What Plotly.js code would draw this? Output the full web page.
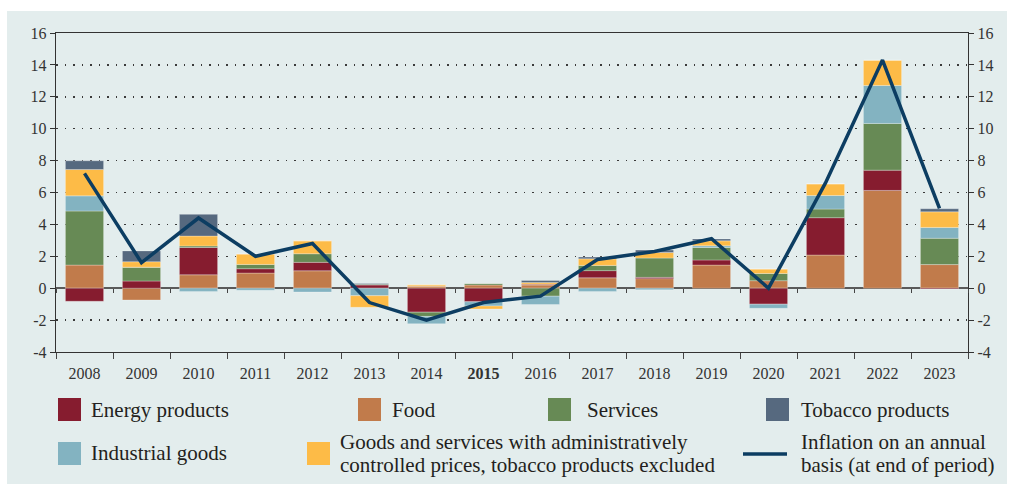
<!DOCTYPE html>
<html>
<head>
<meta charset="utf-8">
<script src="https://cdn.plot.ly/plotly-3.0.1.min.js"></script>
<style>
  html, body { margin: 0; padding: 0; background: #ffffff; }
  #chart { position: absolute; left: 7px; top: 11px; width: 1000px; height: 473px; }
</style>
</head>
<body>
<div id="chart"></div>
<script>
// ---- data ----
const years = ['2008','2009','2010','2011','2012','2013','2014','2015','2016','2017','2018','2019','2020','2021','2022','2023'];
const yearLabels = ['2008','2009','2010','2011','2012','2013','2014','<b>2015</b>','2016','2017','2018','2019','2020','2021','2022','2023'];
const food       = [1.45,-0.74, 0.84, 0.95, 1.09, 0.00, 0.12, 0.20, 0.20, 0.65, 0.60, 1.45, 0.47, 2.08, 6.13, 1.48];
const energy     = [-0.82,0.45, 1.71, 0.27, 0.53, 0.20,-1.50,-0.85, 0.05, 0.45, 0.08, 0.32,-1.00, 2.34, 1.27,-0.05];
const services   = [3.39, 0.87, 0.10, 0.27, 0.54, 0.05,-0.27, 0.10,-0.50, 0.33, 1.21, 0.78, 0.45, 0.54, 2.93, 1.65];
const industrial = [0.95, 0.00,-0.20,-0.13,-0.24,-0.47,-0.46,-0.27,-0.52,-0.20,-0.10, 0.11,-0.26, 0.85, 2.38, 0.68];
const admin      = [1.65, 0.34, 0.62, 0.65, 0.81,-0.73, 0.09,-0.18, 0.10, 0.41, 0.35, 0.31, 0.28, 0.73, 1.58, 0.98];
const tobacco    = [0.55, 0.68, 1.36, 0.00, 0.00, 0.05, 0.00, 0.00, 0.13, 0.11, 0.15, 0.12, 0.00, 0.00, 0.00, 0.19];
const inflation  = [7.2, 1.6, 4.4, 2.0, 2.8, -0.9, -2.0, -0.9, -0.5, 1.8, 2.3, 3.1, 0.0, 6.6, 14.3, 5.0];
const yTickVals  = [-4,-2,0,2,4,6,8,10,12,14,16];
const yTickText  = ['-4','-2','0','2','4','6','8','10','12','14','16'];
const seriesNames = ['Energy products','Food','Services','Tobacco products','Industrial goods'];
const adminNameLines = ['Goods and services with administratively','controlled prices, tobacco products excluded'];
const inflationNameLines = ['Inflation on an annual','basis (at end of period)'];

// ---- styles ----
const C = {
  energy: '#861c2f', food: '#c17b4b', services: '#678a55', tobacco: '#56697f',
  industrial: '#83b3c1', admin: '#fdbb47', line: '#0c3d62', bg: '#e3eded', text: '#231f20'
};
const FONT = 'Liberation Serif, Times New Roman, serif';
const outline = {color: 'rgba(255,255,255,0.35)', width: 0.8};

function bar(name, y, color) {
  return {type: 'bar', name: name, x: years, y: y, marker: {color: color, line: outline},
          xaxis: 'x', yaxis: 'y', showlegend: false, hoverinfo: 'name+y'};
}

const traces = [
  bar('Food', food, C.food),
  bar('Energy products', energy, C.energy),
  bar('Services', services, C.services),
  bar('Industrial goods', industrial, C.industrial),
  bar(adminNameLines.join(' '), admin, C.admin),
  bar('Tobacco products', tobacco, C.tobacco),
  {type: 'scatter', mode: 'lines', name: inflationNameLines.join(' '), x: years, y: inflation,
   xaxis: 'x', yaxis: 'y2', line: {color: C.line, width: 3.5}, showlegend: false},
  {type: 'scatter', mode: 'lines', x: years, y: years.map(() => null), xaxis: 'x2', yaxis: 'y',
   showlegend: false, hoverinfo: 'skip'}
];

// ---- legend (manual, positions in page pixels converted to paper fractions) ----
const PL = 56, PR = 968, PT = 33, PB = 352;
const px = v => (v - PL) / (PR - PL);
const py = v => (PB - v) / (PB - PT);
const shapes = [];
const annotations = [];
function swatch(x0, y0, color) {
  shapes.push({type: 'rect', xref: 'paper', yref: 'paper', x0: px(x0), x1: px(x0 + 23),
               y0: py(y0 + 23), y1: py(y0), fillcolor: color, line: {width: 0}});
}
function label(x, y, text) {
  annotations.push({xref: 'paper', yref: 'paper', x: px(x), y: py(y), text: text, showarrow: false,
                    xanchor: 'left', yanchor: 'middle', font: {family: FONT, size: 21, color: C.text}});
}
swatch(58, 398, C.energy);     label(89, 410, seriesNames[0]);
swatch(358, 398, C.food);      label(390, 410, seriesNames[1]);
swatch(548, 398, C.services);  label(585, 410, seriesNames[2]);
swatch(766, 398, C.tobacco);   label(799, 410, seriesNames[3]);
swatch(58, 442, C.industrial); label(89, 453, seriesNames[4]);
swatch(307, 442, C.admin);     label(338, 441.5, adminNameLines[0]); label(338, 465, adminNameLines[1]);
shapes.push({type: 'line', xref: 'paper', yref: 'paper', x0: px(743), x1: px(787), y0: py(454), y1: py(454),
             line: {color: C.line, width: 3.5}});
label(799, 441.5, inflationNameLines[0]); label(799, 465, inflationNameLines[1]);

const tickFont = {family: FONT, size: 16, color: '#333'};
const yCommon = {
  range: [-4, 16], tickmode: 'array', tickvals: yTickVals, ticktext: yTickText,
  ticks: 'outside', ticklen: 5, tickcolor: '#333', tickfont: tickFont,
  showline: true, linecolor: '#333', linewidth: 1.2, fixedrange: true
};

const layout = {
  width: 1000, height: 473,
  margin: {l: 49, r: 39, t: 22, b: 132, pad: 0},
  paper_bgcolor: C.bg, plot_bgcolor: C.bg,
  font: {family: FONT, color: C.text},
  barmode: 'relative', bargap: 0.33,
  showlegend: false,
  xaxis: {
    type: 'category', range: [-0.5, 15.5], tickmode: 'array', tickvals: years, ticktext: yearLabels,
    tickson: 'boundaries', ticks: 'outside', ticklen: 6, tickcolor: '#444', tickfont: tickFont,
    ticklabelstandoff: 7,
    showline: true, linecolor: '#333', linewidth: 1.2, mirror: true, showgrid: false, fixedrange: true
  },
  xaxis2: {
    type: 'category', overlaying: 'x', anchor: 'free', position: 0.2, range: [-0.5, 15.5],
    tickmode: 'array', tickvals: years, ticktext: years.map(() => ''),
    tickson: 'boundaries', ticks: 'outside', ticklen: 4, tickcolor: '#444',
    showticklabels: false, showline: false, showgrid: false, fixedrange: true
  },
  yaxis: Object.assign({}, yCommon, {
    side: 'left', showgrid: true, gridcolor: '#3a3a3a', gridwidth: 1.5, griddash: '1.5px,7px',
    zeroline: true, zerolinecolor: '#5a5a5a', zerolinewidth: 2.5
  }),
  yaxis2: Object.assign({}, yCommon, {
    side: 'right', overlaying: 'y', showgrid: false, zeroline: false
  }),
  shapes: shapes,
  annotations: annotations
};

Plotly.newPlot('chart', traces, layout, {displayModeBar: false, staticPlot: true});
</script>
</body>
</html>
